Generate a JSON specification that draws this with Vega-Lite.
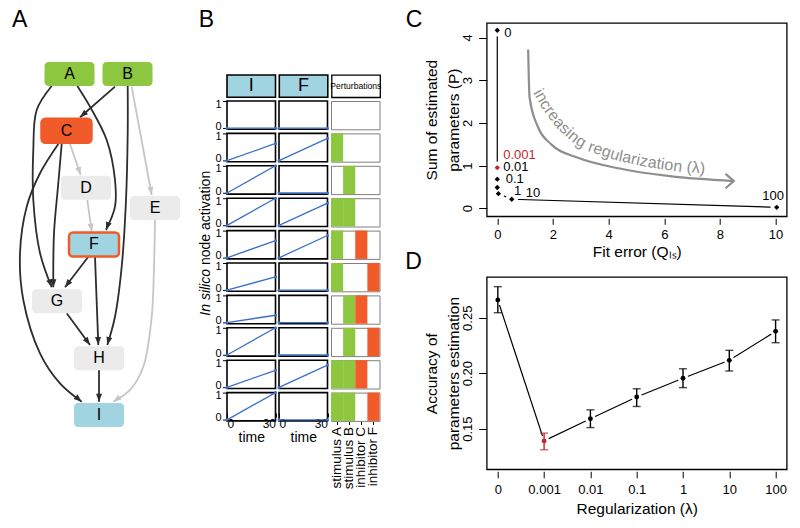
{
"$schema": "https://vega.github.io/schema/vega-lite/v6.json",
"padding": 0,
"background": "white",
"bounds": "flush",
"spacing": 486.7,
"resolve": {"scale": {"color": "independent", "fill": "independent"}},
"config": {
  "font": "Liberation Sans",
  "view": {"stroke": "black", "strokeWidth": 1.5},
  "axis": {"grid": false, "domain": false, "labelColor": "black", "titleColor": "black", "tickColor": "black", "titleFontWeight": "normal", "labelFontSize": 13, "titleFontSize": 15.5},
  "title": {"fontWeight": "normal", "fontSize": 23, "color": "black", "anchor": "start", "frame": "group", "baseline": "alphabetic"}
},
"datasets": {
  "nodes": [
    {"name": "A", "x": 6.95, "rank": 0, "role": "stimulus", "inhibited": false},
    {"name": "B", "x": 12.75, "rank": 0, "role": "stimulus", "inhibited": false},
    {"name": "C", "x": 6.65, "rank": 1, "role": "inhibited", "inhibited": true},
    {"name": "D", "x": 8.6, "rank": 2, "role": "hidden", "inhibited": false},
    {"name": "E", "x": 15.5, "rank": 2.36, "role": "hidden", "inhibited": false},
    {"name": "F", "x": 9.4, "rank": 3, "role": "readout", "inhibited": true},
    {"name": "G", "x": 5.7, "rank": 4, "role": "hidden", "inhibited": false},
    {"name": "H", "x": 9.9, "rank": 5, "role": "hidden", "inhibited": false},
    {"name": "I", "x": 9.9, "rank": 6, "role": "readout", "inhibited": false}
  ],
  "edges": [
    {"edge": "A-G", "i": 1, "x": 5.17, "rank": 0.211, "tone": "dark"},
    {"edge": "A-G", "i": 2, "x": 3.67, "rank": 0.633, "tone": "dark"},
    {"edge": "A-G", "i": 3, "x": 3.33, "rank": 1.337, "tone": "dark"},
    {"edge": "A-G", "i": 4, "x": 3.33, "rank": 2.217, "tone": "dark"},
    {"edge": "A-G", "i": 5, "x": 4.0, "rank": 3.15, "tone": "dark"},
    {"edge": "A-G", "i": 6, "x": 5.17, "rank": 3.753, "tone": "dark"},
    {"edge": "A-F", "i": 1, "x": 7.73, "rank": 0.211, "tone": "dark"},
    {"edge": "A-F", "i": 2, "x": 9.0, "rank": 0.575, "tone": "dark"},
    {"edge": "A-F", "i": 3, "x": 10.67, "rank": 1.161, "tone": "dark"},
    {"edge": "A-F", "i": 4, "x": 11.5, "rank": 1.865, "tone": "dark"},
    {"edge": "A-F", "i": 5, "x": 11.5, "rank": 2.335, "tone": "dark"},
    {"edge": "A-F", "i": 6, "x": 10.6, "rank": 2.745, "tone": "dark"},
    {"edge": "B-C", "i": 1, "x": 11.5, "rank": 0.223, "tone": "dark"},
    {"edge": "B-C", "i": 2, "x": 8.0, "rank": 0.762, "tone": "dark"},
    {"edge": "B-H", "i": 1, "x": 12.77, "rank": 0.211, "tone": "dark"},
    {"edge": "B-H", "i": 2, "x": 12.77, "rank": 1.043, "tone": "dark"},
    {"edge": "B-H", "i": 3, "x": 12.6, "rank": 2.217, "tone": "dark"},
    {"edge": "B-H", "i": 4, "x": 12.17, "rank": 3.391, "tone": "dark"},
    {"edge": "B-H", "i": 5, "x": 11.5, "rank": 4.271, "tone": "dark"},
    {"edge": "B-H", "i": 6, "x": 10.73, "rank": 4.769, "tone": "dark"},
    {"edge": "B-E", "i": 1, "x": 13.17, "rank": 0.223, "tone": "light"},
    {"edge": "B-E", "i": 2, "x": 15.17, "rank": 2.129, "tone": "light"},
    {"edge": "C-D", "i": 1, "x": 7.0, "rank": 1.232, "tone": "light"},
    {"edge": "C-D", "i": 2, "x": 8.07, "rank": 1.777, "tone": "light"},
    {"edge": "C-G", "i": 1, "x": 6.17, "rank": 1.232, "tone": "dark"},
    {"edge": "C-G", "i": 2, "x": 5.83, "rank": 1.923, "tone": "dark"},
    {"edge": "C-G", "i": 3, "x": 5.4, "rank": 2.803, "tone": "dark"},
    {"edge": "C-G", "i": 4, "x": 5.33, "rank": 3.753, "tone": "dark"},
    {"edge": "C-I", "i": 1, "x": 5.83, "rank": 1.232, "tone": "dark"},
    {"edge": "C-I", "i": 2, "x": 4.0, "rank": 1.747, "tone": "dark"},
    {"edge": "C-I", "i": 3, "x": 2.67, "rank": 2.335, "tone": "dark"},
    {"edge": "C-I", "i": 4, "x": 2.0, "rank": 3.155, "tone": "dark"},
    {"edge": "C-I", "i": 5, "x": 2.33, "rank": 3.977, "tone": "dark"},
    {"edge": "C-I", "i": 6, "x": 4.0, "rank": 4.915, "tone": "dark"},
    {"edge": "C-I", "i": 7, "x": 6.0, "rank": 5.443, "tone": "dark"},
    {"edge": "C-I", "i": 8, "x": 8.17, "rank": 5.767, "tone": "dark"},
    {"edge": "D-F", "i": 1, "x": 8.73, "rank": 2.217, "tone": "light"},
    {"edge": "D-F", "i": 2, "x": 9.17, "rank": 2.775, "tone": "light"},
    {"edge": "E-I", "i": 1, "x": 15.5, "rank": 2.569, "tone": "light"},
    {"edge": "E-I", "i": 2, "x": 15.4, "rank": 3.391, "tone": "light"},
    {"edge": "E-I", "i": 3, "x": 15.17, "rank": 4.271, "tone": "light"},
    {"edge": "E-I", "i": 4, "x": 14.33, "rank": 5.151, "tone": "light"},
    {"edge": "E-I", "i": 5, "x": 13.0, "rank": 5.56, "tone": "light"},
    {"edge": "E-I", "i": 6, "x": 11.33, "rank": 5.767, "tone": "light"},
    {"edge": "F-G", "i": 1, "x": 8.83, "rank": 3.215, "tone": "dark"},
    {"edge": "F-G", "i": 2, "x": 6.5, "rank": 3.753, "tone": "dark"},
    {"edge": "F-H", "i": 1, "x": 9.5, "rank": 3.215, "tone": "dark"},
    {"edge": "F-H", "i": 2, "x": 9.83, "rank": 4.769, "tone": "dark"},
    {"edge": "G-H", "i": 1, "x": 6.67, "rank": 4.211, "tone": "dark"},
    {"edge": "G-H", "i": 2, "x": 9.0, "rank": 4.769, "tone": "dark"},
    {"edge": "H-I", "i": 1, "x": 9.9, "rank": 5.209, "tone": "dark"},
    {"edge": "H-I", "i": 2, "x": 9.9, "rank": 5.767, "tone": "dark"}
  ],
  "arrows": [
    {"edge": "A-G", "x": 5.17, "rank": 3.753, "angle": 161, "tone": "dark"},
    {"edge": "A-F", "x": 10.6, "rank": 2.745, "angle": 201, "tone": "dark"},
    {"edge": "B-C", "x": 8.0, "rank": 0.762, "angle": 229, "tone": "dark"},
    {"edge": "B-H", "x": 10.73, "rank": 4.769, "angle": 195, "tone": "dark"},
    {"edge": "B-E", "x": 15.17, "rank": 2.129, "angle": 170, "tone": "light"},
    {"edge": "C-D", "x": 8.07, "rank": 1.777, "angle": 161, "tone": "light"},
    {"edge": "C-G", "x": 5.33, "rank": 3.753, "angle": 181, "tone": "dark"},
    {"edge": "C-I", "x": 8.17, "rank": 5.767, "angle": 130, "tone": "dark"},
    {"edge": "D-F", "x": 9.17, "rank": 2.775, "angle": 172, "tone": "light"},
    {"edge": "E-I", "x": 11.33, "rank": 5.767, "angle": 235, "tone": "light"},
    {"edge": "F-G", "x": 6.5, "rank": 3.753, "angle": 217, "tone": "dark"},
    {"edge": "F-H", "x": 9.83, "rank": 4.769, "angle": 178, "tone": "dark"},
    {"edge": "G-H", "x": 9.0, "rank": 4.769, "angle": 144, "tone": "dark"},
    {"edge": "H-I", "x": 9.9, "rank": 5.767, "angle": 180, "tone": "dark"}
  ],
  "series": [
    {"scenario": 1, "node": "I", "time": 0, "value": 0}, {"scenario": 1, "node": "I", "time": 30, "value": 0},
    {"scenario": 2, "node": "I", "time": 0, "value": 0}, {"scenario": 2, "node": "I", "time": 30, "value": 0.63},
    {"scenario": 3, "node": "I", "time": 0, "value": 0}, {"scenario": 3, "node": "I", "time": 30, "value": 1},
    {"scenario": 4, "node": "I", "time": 0, "value": 0}, {"scenario": 4, "node": "I", "time": 30, "value": 1},
    {"scenario": 5, "node": "I", "time": 0, "value": 0}, {"scenario": 5, "node": "I", "time": 30, "value": 0.63},
    {"scenario": 6, "node": "I", "time": 0, "value": 0}, {"scenario": 6, "node": "I", "time": 30, "value": 0.49},
    {"scenario": 7, "node": "I", "time": 0, "value": 0}, {"scenario": 7, "node": "I", "time": 30, "value": 0.27},
    {"scenario": 8, "node": "I", "time": 0, "value": 0}, {"scenario": 8, "node": "I", "time": 30, "value": 1},
    {"scenario": 9, "node": "I", "time": 0, "value": 0}, {"scenario": 9, "node": "I", "time": 30, "value": 0.63},
    {"scenario": 10, "node": "I", "time": 0, "value": 0}, {"scenario": 10, "node": "I", "time": 30, "value": 1},
    {"scenario": 1, "node": "F", "time": 0, "value": 0}, {"scenario": 1, "node": "F", "time": 30, "value": 0},
    {"scenario": 2, "node": "F", "time": 0, "value": 0}, {"scenario": 2, "node": "F", "time": 30, "value": 0.82},
    {"scenario": 3, "node": "F", "time": 0, "value": 0}, {"scenario": 3, "node": "F", "time": 30, "value": 0},
    {"scenario": 4, "node": "F", "time": 0, "value": 0}, {"scenario": 4, "node": "F", "time": 30, "value": 0.82},
    {"scenario": 5, "node": "F", "time": 0, "value": 0}, {"scenario": 5, "node": "F", "time": 30, "value": 0.82},
    {"scenario": 6, "node": "F", "time": 0, "value": 0}, {"scenario": 6, "node": "F", "time": 30, "value": 0},
    {"scenario": 7, "node": "F", "time": 0, "value": 0}, {"scenario": 7, "node": "F", "time": 30, "value": 0},
    {"scenario": 8, "node": "F", "time": 0, "value": 0}, {"scenario": 8, "node": "F", "time": 30, "value": 0},
    {"scenario": 9, "node": "F", "time": 0, "value": 0}, {"scenario": 9, "node": "F", "time": 30, "value": 0.82},
    {"scenario": 10, "node": "F", "time": 0, "value": 0}, {"scenario": 10, "node": "F", "time": 30, "value": 0}
  ],
  "perturb": [
    {"scenario": 1, "pert": "stimulus A", "state": "off"}, {"scenario": 1, "pert": "stimulus B", "state": "off"}, {"scenario": 1, "pert": "inhibitor C", "state": "off"}, {"scenario": 1, "pert": "inhibitor F", "state": "off"},
    {"scenario": 2, "pert": "stimulus A", "state": "stimulus"}, {"scenario": 2, "pert": "stimulus B", "state": "off"}, {"scenario": 2, "pert": "inhibitor C", "state": "off"}, {"scenario": 2, "pert": "inhibitor F", "state": "off"},
    {"scenario": 3, "pert": "stimulus A", "state": "off"}, {"scenario": 3, "pert": "stimulus B", "state": "stimulus"}, {"scenario": 3, "pert": "inhibitor C", "state": "off"}, {"scenario": 3, "pert": "inhibitor F", "state": "off"},
    {"scenario": 4, "pert": "stimulus A", "state": "stimulus"}, {"scenario": 4, "pert": "stimulus B", "state": "stimulus"}, {"scenario": 4, "pert": "inhibitor C", "state": "off"}, {"scenario": 4, "pert": "inhibitor F", "state": "off"},
    {"scenario": 5, "pert": "stimulus A", "state": "stimulus"}, {"scenario": 5, "pert": "stimulus B", "state": "off"}, {"scenario": 5, "pert": "inhibitor C", "state": "inhibitor"}, {"scenario": 5, "pert": "inhibitor F", "state": "off"},
    {"scenario": 6, "pert": "stimulus A", "state": "stimulus"}, {"scenario": 6, "pert": "stimulus B", "state": "off"}, {"scenario": 6, "pert": "inhibitor C", "state": "off"}, {"scenario": 6, "pert": "inhibitor F", "state": "inhibitor"},
    {"scenario": 7, "pert": "stimulus A", "state": "off"}, {"scenario": 7, "pert": "stimulus B", "state": "stimulus"}, {"scenario": 7, "pert": "inhibitor C", "state": "inhibitor"}, {"scenario": 7, "pert": "inhibitor F", "state": "off"},
    {"scenario": 8, "pert": "stimulus A", "state": "off"}, {"scenario": 8, "pert": "stimulus B", "state": "stimulus"}, {"scenario": 8, "pert": "inhibitor C", "state": "off"}, {"scenario": 8, "pert": "inhibitor F", "state": "inhibitor"},
    {"scenario": 9, "pert": "stimulus A", "state": "stimulus"}, {"scenario": 9, "pert": "stimulus B", "state": "stimulus"}, {"scenario": 9, "pert": "inhibitor C", "state": "inhibitor"}, {"scenario": 9, "pert": "inhibitor F", "state": "off"},
    {"scenario": 10, "pert": "stimulus A", "state": "stimulus"}, {"scenario": 10, "pert": "stimulus B", "state": "stimulus"}, {"scenario": 10, "pert": "inhibitor C", "state": "off"}, {"scenario": 10, "pert": "inhibitor F", "state": "inhibitor"}
  ],
  "cpts": [
    {"lam": "0", "ord": 0, "fit": 0, "P": 4.17, "sel": "n"},
    {"lam": "0.001", "ord": 1, "fit": 0, "P": 0.95, "sel": "y"},
    {"lam": "0.01", "ord": 2, "fit": 0, "P": 0.68, "sel": "n"},
    {"lam": "0.1", "ord": 3, "fit": 0, "P": 0.485, "sel": "n"},
    {"lam": "1", "ord": 4, "fit": 0.04, "P": 0.34, "sel": "n"},
    {"lam": "10", "ord": 5, "fit": 0.52, "P": 0.21, "sel": "n"},
    {"lam": "100", "ord": 6, "fit": 10.04, "P": 0.02, "sel": "n"}
  ],
  "curve": [
    {"i": 1, "fit": 1.11, "P": 3.72}, {"i": 2, "fit": 1.16, "P": 2.6}, {"i": 3, "fit": 1.45, "P": 1.92}, {"i": 4, "fit": 1.95, "P": 1.49},
    {"i": 5, "fit": 2.9, "P": 1.18}, {"i": 6, "fit": 4.4, "P": 0.93}, {"i": 7, "fit": 6.2, "P": 0.75}, {"i": 8, "fit": 8.5, "P": 0.635}
  ],
  "ctext": [
    {"t": "inc", "fit": 1.627, "P": 2.559, "a": 60},
    {"t": "rea", "fit": 2.065, "P": 2.137, "a": 52},
    {"t": "sin", "fit": 2.597, "P": 1.767, "a": 41},
    {"t": "g", "fit": 3.014, "P": 1.558, "a": 30},
    {"t": "regu", "fit": 3.833, "P": 1.338, "a": 18},
    {"t": "lariz", "fit": 4.892, "P": 1.152, "a": 12},
    {"t": "ation", "fit": 6.027, "P": 1.024, "a": 8},
    {"t": "(λ)", "fit": 7.137, "P": 0.944, "a": 4}
  ],
  "dpts": [
    {"lam": "0", "acc": 0.266, "lo": 0.2545, "hi": 0.278, "sel": "n"},
    {"lam": "0.001", "acc": 0.139, "lo": 0.131, "hi": 0.146, "sel": "y"},
    {"lam": "0.01", "acc": 0.159, "lo": 0.151, "hi": 0.167, "sel": "n"},
    {"lam": "0.1", "acc": 0.1786, "lo": 0.17, "hi": 0.186, "sel": "n"},
    {"lam": "1", "acc": 0.1954, "lo": 0.187, "hi": 0.204, "sel": "n"},
    {"lam": "10", "acc": 0.2116, "lo": 0.202, "hi": 0.2206, "sel": "n"},
    {"lam": "100", "acc": 0.2377, "lo": 0.2275, "hi": 0.248, "sel": "n"}
  ]
},
"hconcat": [
  {"bounds": "flush", "spacing": 0, "resolve": {"scale": {"color": "independent", "fill": "independent"}}, "hconcat": [
    {
      "width": 188.3, "height": 528, "view": {"stroke": null},
      "title": {"text": "A", "dx": 12, "offset": -32},
      "layer": [
        {"data": {"name": "edges"}, "mark": {"type": "line", "interpolate": "catmull-rom", "strokeWidth": 1.8},
         "encoding": {
           "x": {"field": "x", "type": "quantitative", "scale": {"domain": [0, 18.83], "nice": false, "zero": false}, "axis": null},
           "y": {"field": "rank", "type": "quantitative", "scale": {"domain": [-1.302, 7.989], "reverse": true, "nice": false, "zero": false}, "axis": null},
           "detail": {"field": "edge"},
           "order": {"field": "i", "type": "quantitative"},
           "color": {"field": "tone", "type": "nominal", "scale": {"domain": ["dark", "light"], "range": ["#2d2d2d", "#c6c6c6"]}, "legend": null}}},
        {"data": {"name": "arrows"}, "mark": {"type": "point", "shape": "M0,0L-0.6,1.6L0.6,1.6Z", "filled": true, "size": 100, "opacity": 1, "strokeWidth": 0},
         "encoding": {
           "x": {"field": "x", "type": "quantitative"},
           "y": {"field": "rank", "type": "quantitative"},
           "angle": {"field": "angle", "type": "quantitative", "scale": null},
           "color": {"field": "tone", "type": "nominal", "legend": null}}},
        {"data": {"name": "nodes"}, "mark": {"type": "rect", "width": 50, "height": 24, "cornerRadius": 4, "strokeWidth": 2.5},
         "encoding": {
           "x": {"field": "x", "type": "quantitative"},
           "y": {"field": "rank", "type": "quantitative"},
           "fill": {"field": "role", "type": "nominal", "scale": {"domain": ["stimulus", "inhibited", "readout", "hidden"], "range": ["#8DC63F", "#F15A29", "#A0D4E0", "#EBEBEB"]}, "legend": null},
           "stroke": {"condition": {"test": "datum.inhibited", "value": "#F15A29"}, "value": null}}},
        {"data": {"name": "nodes"}, "mark": {"type": "text", "fontSize": 16, "color": "black"},
         "encoding": {
           "x": {"field": "x", "type": "quantitative"},
           "y": {"field": "rank", "type": "quantitative"},
           "text": {"field": "name"}}}
      ]
    },
    {
      "width": 37.4, "height": 528, "view": {"stroke": null}, "data": {"values": [{}]},
      "layer": [
        {"mark": {"type": "text", "text": "In silico", "angle": 270, "align": "right", "baseline": "middle", "fontStyle": "italic", "fontSize": 14, "dx": -5, "dy": -1.5}},
        {"mark": {"type": "text", "text": "node activation", "angle": 270, "align": "left", "baseline": "middle", "fontSize": 14, "dx": -1, "dy": -1.5}}
      ]
    },
    {"bounds": "flush", "spacing": 0, "resolve": {"scale": {"color": "independent", "fill": "independent"}}, "vconcat": [
      {"width": 152, "height": 75, "view": {"stroke": null}, "data": {"values": [{}]}, "mark": {"type": "text", "text": ""},
       "title": {"text": "B", "dx": -28.2, "offset": -31.7}},
      {"bounds": "flush", "spacing": 3.3, "hconcat": [
        {"width": 48.5, "height": 22.3, "view": {"fill": "#A0D4E0", "stroke": "black", "strokeWidth": 1.6}, "data": {"values": [{}]}, "mark": {"type": "text", "text": "I", "fontSize": 18}},
        {"width": 48.5, "height": 22.3, "view": {"fill": "#A0D4E0", "stroke": "black", "strokeWidth": 1.6}, "data": {"values": [{}]}, "mark": {"type": "text", "text": "F", "fontSize": 18}},
        {"width": 48.5, "height": 22.3, "view": {"fill": "white", "stroke": "black", "strokeWidth": 1.3}, "data": {"values": [{}]}, "mark": {"type": "text", "text": "Perturbations", "fontSize": 8.6}}
      ]},
      {"width": 152, "height": 26, "view": {"stroke": null}, "data": {"values": [{}]}, "mark": {"type": "text", "text": ""}},
      {"bounds": "flush", "spacing": 0, "resolve": {"scale": {"color": "independent", "fill": "independent"}}, "hconcat": [
        {"bounds": "flush", "spacing": 3.4, "data": {"name": "series"}, "transform": [{"filter": "datum.node === 'I'"}],
         "facet": {"row": {"field": "scenario", "type": "ordinal", "header": null}},
         "spec": {"width": 48.5, "height": 28.3, "view": {"stroke": "black", "strokeWidth": 1.6},
           "layer": [
             {"mark": {"type": "line", "color": "#3B6FC6", "strokeWidth": 1.3},
              "encoding": {
                "x": {"field": "time", "type": "quantitative", "scale": {"domain": [0, 30], "nice": false}, "axis": {"values": [0, 30], "title": "time", "labelFlush": true, "offset": -8, "tickSize": 4, "labelFontSize": 12, "titleFontSize": 14, "labelPadding": 1, "titlePadding": 1}},
                "y": {"field": "value", "type": "quantitative", "scale": {"domain": [-0.04, 1], "nice": false, "zero": false}, "axis": {"values": [0, 1], "title": null, "tickSize": 4.5, "labelFontSize": 11, "labelPadding": 1.5, "labelOffset": {"expr": "datum.value === 1 ? 3 : -2"}}}}},
             {"mark": {"type": "circle", "color": "#3B6FC6", "size": 9, "opacity": 1},
              "encoding": {"x": {"field": "time", "type": "quantitative"}, "y": {"field": "value", "type": "quantitative"}}}
           ]}},
        {"width": 51.8, "height": 1, "view": {"stroke": null}, "data": {"values": [{}]}, "mark": {"type": "text", "text": ""}},
        {"bounds": "flush", "spacing": 3.4, "data": {"name": "series"}, "transform": [{"filter": "datum.node === 'F'"}],
         "facet": {"row": {"field": "scenario", "type": "ordinal", "header": null}},
         "spec": {"width": 48.5, "height": 28.3, "view": {"stroke": "black", "strokeWidth": 1.6},
           "layer": [
             {"mark": {"type": "line", "color": "#3B6FC6", "strokeWidth": 1.3},
              "encoding": {
                "x": {"field": "time", "type": "quantitative", "scale": {"domain": [0, 30], "nice": false}, "axis": {"values": [0, 30], "title": "time", "labelFlush": true, "offset": -8, "tickSize": 4, "labelFontSize": 12, "titleFontSize": 14, "labelPadding": 1, "titlePadding": 1}},
                "y": {"field": "value", "type": "quantitative", "scale": {"domain": [-0.04, 1], "nice": false, "zero": false}, "axis": null}}},
             {"mark": {"type": "circle", "color": "#3B6FC6", "size": 9, "opacity": 1},
              "encoding": {"x": {"field": "time", "type": "quantitative"}, "y": {"field": "value", "type": "quantitative"}}}
           ]}},
        {"width": 51.8, "height": 1, "view": {"stroke": null}, "data": {"values": [{}]}, "mark": {"type": "text", "text": ""}},
        {"bounds": "flush", "spacing": 3.4, "data": {"name": "perturb"},
         "facet": {"row": {"field": "scenario", "type": "ordinal", "header": null}},
         "spec": {"width": 48.5, "height": 28.3, "view": {"stroke": "#808080", "strokeWidth": 1},
           "mark": {"type": "rect"},
           "encoding": {
             "x": {"field": "pert", "type": "nominal", "sort": ["stimulus A", "stimulus B", "inhibitor C", "inhibitor F"], "scale": {"paddingInner": 0, "paddingOuter": 0},
                   "axis": {"labelAngle": 270, "labelAlign": "right", "labelBaseline": "middle", "title": null, "tickSize": 3.5, "labelPadding": 2, "labelFontSize": 13.5}},
             "color": {"field": "state", "type": "nominal", "scale": {"domain": ["stimulus", "inhibitor", "off"], "range": ["#8DC63F", "#F15A29", "rgba(0,0,0,0)"]}, "legend": null}}}}
      ]}
    ]}
  ]},
  {"bounds": "flush", "spacing": 0, "resolve": {"scale": {"color": "independent", "fill": "independent"}}, "vconcat": [
    {"width": 300, "height": 22.7, "view": {"stroke": null}, "data": {"values": [{}]}, "mark": {"type": "text", "text": ""},
     "title": {"text": "C", "dx": -81, "offset": -31.7}},
    {"width": 300, "height": 193.3, "view": {"stroke": "black", "strokeWidth": 1.3},
     "layer": [
       {"data": {"name": "cpts"}, "mark": {"type": "line", "color": "black", "strokeWidth": 1.2},
        "encoding": {
          "x": {"field": "fit", "type": "quantitative", "scale": {"domain": [-0.38, 10.4], "nice": false, "zero": false}, "axis": {"values": [0, 2, 4, 6, 8, 10], "title": "Fit error (Qₗₛ)", "offset": 2, "tickSize": 6, "labelPadding": 4, "titlePadding": 3}},
          "y": {"field": "P", "type": "quantitative", "scale": {"domain": [-0.19, 4.34], "nice": false, "zero": false}, "axis": {"values": [0, 1, 2, 3, 4], "title": ["Sum of estimated", "parameters (P)"], "labelAngle": 270, "labelAlign": "center", "labelBaseline": "bottom", "tickSize": 8, "labelPadding": 4, "titlePadding": 0, "titleLineHeight": 22.5}},
          "order": {"field": "ord", "type": "quantitative"}}},
       {"data": {"name": "cpts"}, "mark": {"type": "circle", "color": "white", "size": 150, "opacity": 1},
        "encoding": {"x": {"field": "fit", "type": "quantitative"}, "y": {"field": "P", "type": "quantitative"}}},
       {"data": {"name": "curve"}, "mark": {"type": "line", "color": "#8E8E8E", "strokeWidth": 2.2, "interpolate": "monotone"},
        "encoding": {"x": {"field": "fit", "type": "quantitative"}, "y": {"field": "P", "type": "quantitative"}, "order": {"field": "i", "type": "quantitative"}}},
       {"data": {"name": "curve"}, "transform": [{"filter": "datum.i === 8"}],
        "mark": {"type": "point", "shape": "M-1.15,-1L0,0L-1.15,1", "filled": false, "size": 207, "strokeWidth": 2.2, "color": "#8E8E8E", "opacity": 1},
        "encoding": {"x": {"field": "fit", "type": "quantitative"}, "y": {"field": "P", "type": "quantitative"}}},
       {"data": {"name": "ctext"}, "mark": {"type": "text", "fontSize": 16, "color": "#8E8E8E", "baseline": "middle", "align": "center"},
        "encoding": {"x": {"field": "fit", "type": "quantitative"}, "y": {"field": "P", "type": "quantitative"}, "text": {"field": "t"}, "angle": {"field": "a", "type": "quantitative", "scale": null}}},
       {"data": {"name": "cpts"}, "mark": {"type": "point", "shape": "diamond", "filled": true, "size": 28, "opacity": 1},
        "encoding": {"x": {"field": "fit", "type": "quantitative"}, "y": {"field": "P", "type": "quantitative"},
          "color": {"field": "sel", "type": "nominal", "scale": {"domain": ["n", "y"], "range": ["#000000", "#C1272D"]}, "legend": null}}},
       {"data": {"name": "cpts"}, "transform": [{"filter": "datum.lam === '0'"}], "mark": {"type": "text", "fontSize": 13, "align": "left", "baseline": "middle", "dx": 7, "dy": 3},
        "encoding": {"x": {"field": "fit", "type": "quantitative"}, "y": {"field": "P", "type": "quantitative"}, "text": {"field": "lam"}, "color": {"field": "sel", "type": "nominal", "legend": null}}},
       {"data": {"name": "cpts"}, "transform": [{"filter": "datum.lam === '0.001' || datum.lam === '0.01'"}], "mark": {"type": "text", "fontSize": 13, "align": "left", "baseline": "middle", "dx": 6, "dy": -12.5},
        "encoding": {"x": {"field": "fit", "type": "quantitative"}, "y": {"field": "P", "type": "quantitative"}, "text": {"field": "lam"}, "color": {"field": "sel", "type": "nominal", "legend": null}}},
       {"data": {"name": "cpts"}, "transform": [{"filter": "datum.lam === '0.1'"}], "mark": {"type": "text", "fontSize": 13, "align": "left", "baseline": "middle", "dx": 8.5, "dy": -8},
        "encoding": {"x": {"field": "fit", "type": "quantitative"}, "y": {"field": "P", "type": "quantitative"}, "text": {"field": "lam"}, "color": {"field": "sel", "type": "nominal", "legend": null}}},
       {"data": {"name": "cpts"}, "transform": [{"filter": "datum.lam === '1'"}], "mark": {"type": "text", "fontSize": 13, "align": "left", "baseline": "middle", "dx": 15.5, "dy": -3},
        "encoding": {"x": {"field": "fit", "type": "quantitative"}, "y": {"field": "P", "type": "quantitative"}, "text": {"field": "lam"}, "color": {"field": "sel", "type": "nominal", "legend": null}}},
       {"data": {"name": "cpts"}, "transform": [{"filter": "datum.lam === '10'"}], "mark": {"type": "text", "fontSize": 13, "align": "left", "baseline": "middle", "dx": 14, "dy": -6.5},
        "encoding": {"x": {"field": "fit", "type": "quantitative"}, "y": {"field": "P", "type": "quantitative"}, "text": {"field": "lam"}, "color": {"field": "sel", "type": "nominal", "legend": null}}},
       {"data": {"name": "cpts"}, "transform": [{"filter": "datum.lam === '100'"}], "mark": {"type": "text", "fontSize": 13, "align": "center", "baseline": "middle", "dx": -3.5, "dy": -11},
        "encoding": {"x": {"field": "fit", "type": "quantitative"}, "y": {"field": "P", "type": "quantitative"}, "text": {"field": "lam"}, "color": {"field": "sel", "type": "nominal", "legend": null}}}
     ]},
    {"width": 300, "height": 59.7, "view": {"stroke": null}, "data": {"values": [{}]}, "mark": {"type": "text", "text": ""}},
    {"width": 300, "height": 192.3, "view": {"stroke": "black", "strokeWidth": 1.3},
     "title": {"text": "D", "dx": -81.5, "offset": 3.3},
     "data": {"name": "dpts"},
     "layer": [
       {"mark": {"type": "line", "color": "black", "strokeWidth": 1.2},
        "encoding": {
          "x": {"field": "lam", "type": "ordinal", "sort": ["0", "0.001", "0.01", "0.1", "1", "10", "100"], "scale": {"type": "point", "padding": 0.24}, "axis": {"title": "Regularization (λ)", "labelAngle": 0, "offset": 2, "tickSize": 6.5, "labelPadding": 6, "titlePadding": 5}},
          "y": {"field": "acc", "type": "quantitative", "scale": {"domain": [0.1134, 0.2867], "nice": false, "zero": false}, "axis": {"values": [0.15, 0.2, 0.25], "format": ".2f", "title": ["Accuracy of", "parameters estimation"], "labelAngle": 270, "labelAlign": "center", "labelBaseline": "bottom", "tickSize": 8, "labelPadding": 4, "titlePadding": 0, "titleLineHeight": 22.5}}}},
       {"mark": {"type": "circle", "color": "white", "size": 110, "opacity": 1},
        "encoding": {"x": {"field": "lam", "type": "ordinal", "sort": ["0", "0.001", "0.01", "0.1", "1", "10", "100"]}, "y": {"field": "acc", "type": "quantitative"}}},
       {"mark": {"type": "rule", "strokeWidth": 1.4},
        "encoding": {"x": {"field": "lam", "type": "ordinal", "sort": ["0", "0.001", "0.01", "0.1", "1", "10", "100"]}, "y": {"field": "lo", "type": "quantitative"}, "y2": {"field": "hi"},
          "color": {"field": "sel", "type": "nominal", "scale": {"domain": ["n", "y"], "range": ["#000000", "#C1272D"]}, "legend": null}}},
       {"mark": {"type": "tick", "orient": "horizontal", "size": 8, "thickness": 1.4},
        "encoding": {"x": {"field": "lam", "type": "ordinal", "sort": ["0", "0.001", "0.01", "0.1", "1", "10", "100"]}, "y": {"field": "lo", "type": "quantitative"},
          "color": {"field": "sel", "type": "nominal", "legend": null}}},
       {"mark": {"type": "tick", "orient": "horizontal", "size": 8, "thickness": 1.4},
        "encoding": {"x": {"field": "lam", "type": "ordinal", "sort": ["0", "0.001", "0.01", "0.1", "1", "10", "100"]}, "y": {"field": "hi", "type": "quantitative"},
          "color": {"field": "sel", "type": "nominal", "legend": null}}},
       {"mark": {"type": "circle", "size": 24, "opacity": 1},
        "encoding": {"x": {"field": "lam", "type": "ordinal", "sort": ["0", "0.001", "0.01", "0.1", "1", "10", "100"]}, "y": {"field": "acc", "type": "quantitative"},
          "color": {"field": "sel", "type": "nominal", "legend": null}}}
     ]}
  ]}
]
}
